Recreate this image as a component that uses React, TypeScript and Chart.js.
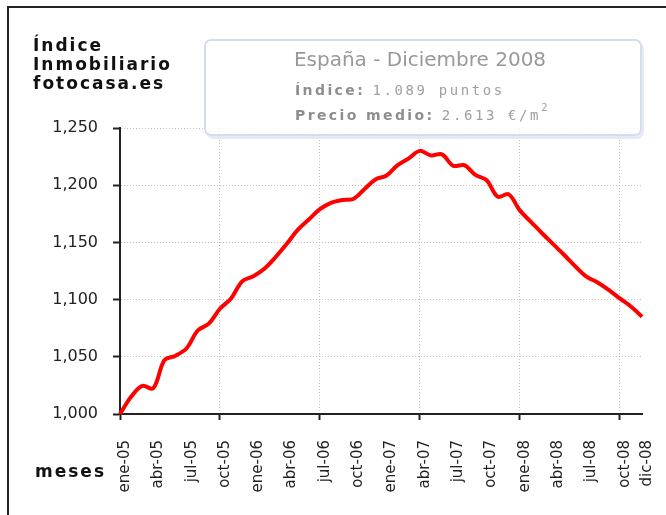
import React, { useEffect, useRef } from 'react';
import { Chart, registerables } from 'chart.js';

Chart.register(...registerables);

// ---- data ----
const monthNames = ['ene', 'feb', 'mar', 'abr', 'may', 'jun', 'jul', 'ago', 'sep', 'oct', 'nov', 'dic'];
const yearSuffixes = ['05', '06', '07', '08'];
const categories = yearSuffixes.flatMap((y) => monthNames.map((m) => `${m}-${y}`));

const indexValues = [
  1000, 1015, 1024.5, 1022.5, 1047, 1051, 1057.5, 1073, 1079, 1092, 1101, 1116,
  1120.5, 1127, 1137, 1148.5, 1161, 1170, 1179, 1184.5, 1187, 1188, 1196.5, 1205,
  1208.5, 1217.5, 1223.5, 1230, 1226, 1227, 1217, 1217.5, 1209, 1204.5, 1190, 1192,
  1178, 1168, 1158, 1148.5, 1139, 1129, 1120, 1115, 1108.5, 1101, 1094, 1085,
];

const yMin = 1000;
const yMax = 1250;
const yStep = 50;
const labelEvery = 3;

const titleLines = ['Índice', 'Inmobiliario', 'fotocasa.es'];
const xAxisTitle = 'meses';
const boxTitle = 'España - Diciembre 2008';
const boxIndexLabel = 'Índice:';
const boxIndexValue = '1.089 puntos';
const boxPriceLabel = 'Precio medio:';
const boxPriceValue = '2.613 €/m';

export default function App() {
  const ref = useRef<HTMLCanvasElement | null>(null);

  useEffect(() => {
    if (!ref.current) return;
    const last = categories.length - 1;
    const shown = (i: number) => i % labelEvery === 0 || i === last;
    const tickFont = 'DejaVu Sans';

    const chart = new Chart(ref.current, {
      type: 'line',
      data: {
        labels: categories,
        datasets: [
          {
            data: indexValues,
            borderColor: '#ff0000',
            borderWidth: 4,
            pointRadius: 0,
            tension: 0.35,
            fill: false,
            clip: 6,
          } as any,
        ],
      },
      options: {
        animation: false,
        responsive: false,
        devicePixelRatio: 1,
        events: [],
        layout: { padding: { top: 128, right: 24, left: 0, bottom: 0 } },
        plugins: {
          legend: { display: false },
          tooltip: { enabled: false },
          title: { display: false },
        },
        scales: {
          x: {
            type: 'category',
            offset: false,
            grid: {
              color: (c: any) => (shown(c.index) ? '#c2c2c2' : 'rgba(0,0,0,0)'),
              tickColor: (c: any) => (shown(c.index) ? '#222' : 'rgba(0,0,0,0)'),
              tickLength: 6,
              tickWidth: 2,
              lineWidth: 1,
            },
            border: { display: true, color: '#222', width: 2, dash: [1, 2] },
            ticks: {
              autoSkip: false,
              minRotation: 90,
              maxRotation: 90,
              padding: 20,
              labelOffset: 5,
              color: (c: any) => (c.index === last ? '#b4b4b4' : '#222'),
              font: (c: any) => ({
                family: tickFont,
                size: 15,
                style: c.index === last ? 'italic' : 'normal',
              }),
              callback: (_v: any, i: number) => (shown(i) ? categories[i] : null),
            },
            afterFit: (s: any) => {
              s.height = 101;
              s.paddingLeft = 0;
              s.paddingRight = 0;
            },
          } as any,
          y: {
            min: yMin,
            max: yMax,
            grid: { color: '#c2c2c2', tickColor: '#222', tickLength: 7, tickWidth: 2, lineWidth: 1 },
            border: { display: true, color: '#222', width: 2, dash: [1, 2] },
            ticks: {
              stepSize: yStep,
              padding: 15,
              color: '#222',
              font: { family: tickFont, size: 16 },
              callback: (v: any) => Number(v).toLocaleString('en-US'),
            },
            afterFit: (s: any) => {
              s.width = 120;
              s.paddingTop = 0;
              s.paddingBottom = 0;
            },
          } as any,
        },
      },
    });
    return () => chart.destroy();
  }, []);

  const boldTitle: React.CSSProperties = {
    fontFamily: '"DejaVu Sans", sans-serif',
    fontWeight: 'bold',
    fontSize: 17,
    lineHeight: '19px',
    letterSpacing: '2px',
    color: '#111',
    whiteSpace: 'nowrap',
  };

  const boxLabel: React.CSSProperties = {
    fontFamily: '"DejaVu Sans", sans-serif',
    fontWeight: 'bold',
    letterSpacing: '2.4px',
    color: '#8e8e8e',
  };
  const boxValue: React.CSSProperties = {
    fontFamily: '"DejaVu Sans Mono", monospace',
    letterSpacing: '2.6px',
  };

  return (
    <div style={{ position: 'fixed', left: 0, top: 0, width: 666, height: 515, overflow: 'hidden', background: '#fff' }}>
      <div
        style={{
          position: 'absolute',
          left: 7,
          top: 6,
          width: 800,
          height: 800,
          borderLeft: '2px solid #222',
          borderTop: '2px solid #222',
        }}
      />
      <canvas ref={ref} width={666} height={515} style={{ position: 'absolute', left: 0, top: 0 }} />
      <div style={{ ...boldTitle, position: 'absolute', left: 33, top: 36 }}>
        {titleLines.map((l) => (
          <div key={l}>{l}</div>
        ))}
      </div>
      <div style={{ ...boldTitle, position: 'absolute', left: 35, top: 462 }}>{xAxisTitle}</div>
      <div
        style={{
          position: 'absolute',
          left: 204,
          top: 39,
          width: 434,
          height: 93,
          border: '2px solid #d5dcee',
          borderRadius: 7,
          background: 'rgba(255,255,255,0.75)',
          boxShadow: '2px 3px 0 #e6eaf5',
        }}
      />
      <div
        style={{
          position: 'absolute',
          left: 204,
          width: 432,
          top: 47,
          textAlign: 'center',
          fontFamily: '"DejaVu Sans", sans-serif',
          fontSize: 20,
          lineHeight: '24px',
          color: '#999',
          whiteSpace: 'nowrap',
        }}
      >
        {boxTitle}
      </div>
      <div
        style={{
          position: 'absolute',
          left: 295,
          top: 82,
          fontSize: 14,
          lineHeight: '16px',
          whiteSpace: 'nowrap',
          color: '#a0a0a0',
        }}
      >
        <span style={boxLabel}>{boxIndexLabel} </span>
        <span style={boxValue}>{boxIndexValue}</span>
      </div>
      <div
        style={{
          position: 'absolute',
          left: 295,
          top: 107,
          fontSize: 14,
          lineHeight: '16px',
          whiteSpace: 'nowrap',
          color: '#a0a0a0',
        }}
      >
        <span style={boxLabel}>{boxPriceLabel} </span>
        <span style={boxValue}>{boxPriceValue}</span>
        <span style={{ fontFamily: '"DejaVu Sans", sans-serif', fontSize: 10, position: 'relative', top: -9 }}>2</span>
      </div>
    </div>
  );
}
